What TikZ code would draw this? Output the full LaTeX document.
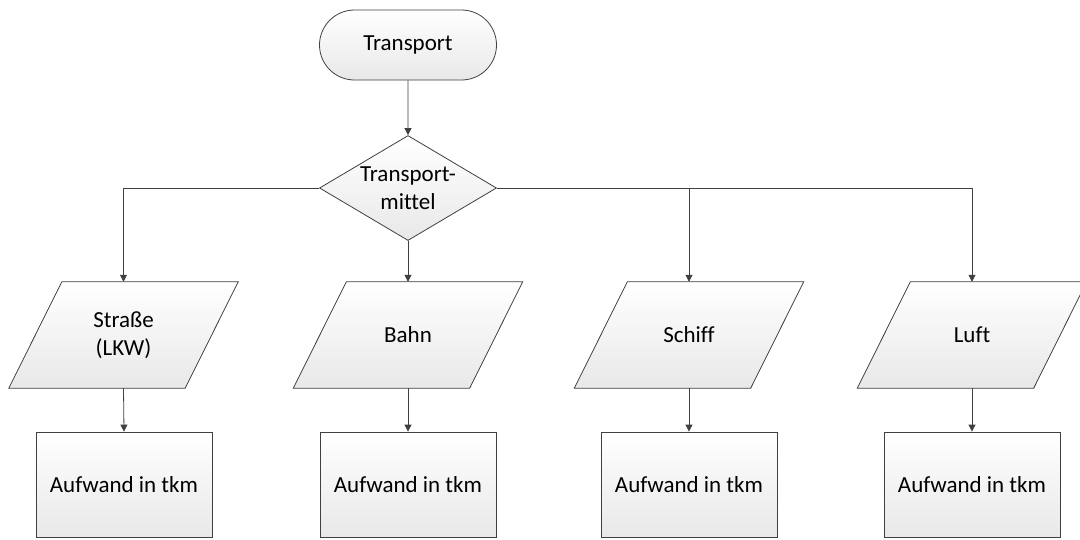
\documentclass[tikz,border=0pt]{standalone}
\usepackage{fontspec}
\setmainfont{Carlito}[Ligatures=NoCommon]
\usepackage{tikz}
\usetikzlibrary{shapes.geometric,shapes.misc,arrows.meta,positioning,backgrounds}
\definecolor{lineclr}{HTML}{404040}

\tikzset{
  fillclr/.style={top color=white, bottom color=black!9},
  box/.style={draw=lineclr, line width=0.8pt, fillclr,
    inner sep=0pt, align=center, font=\fontsize{23}{28}\selectfont},
  term/.style={box, rounded rectangle, minimum width=177pt, minimum height=70pt},
  decision/.style={box, diamond, aspect=1.7, minimum width=177pt, minimum height=105pt},
  para/.style={inner sep=0pt, align=center, font=\fontsize{23}{28}\selectfont,
    minimum width=176pt, minimum height=106pt},
  proc/.style={box, rectangle, minimum width=176pt, minimum height=105pt},
  arr/.style={draw=lineclr, line width=0.8pt, -{Triangle[length=7pt,width=7pt]}}
}

\begin{document}
\begin{tikzpicture}[x=1pt, y=-1pt]
    \useasboundingbox (0,0) rectangle (1080,539);
    \node[term] (transport) at (408,45) {Transport};
    \node[decision] (mittel) at (408,188) {Transport-\\mittel};
    % Transportmittel
    \node[para] (strasse) at (123.5,335) {Straße\\(LKW)};
    \node[para] (bahn) at (408,335) {Bahn};
    \node[para] (schiff) at (689,335) {Schiff};
    \node[para] (luft) at (972,335) {Luft};
    \begin{scope}[on background layer]
        \foreach \n in {strasse, bahn, schiff, luft}
            \draw[draw=lineclr, line width=0.8pt, fillclr]
                ([xshift=26.5pt]\n.north west) -- ([xshift=26.5pt]\n.north east)
                -- ([xshift=-26.5pt]\n.south east) -- ([xshift=-26.5pt]\n.south west) -- cycle;
    \end{scope}
    % Aufwand
    \node[proc] (aufStrasse) at (124,484.5) {Aufwand in tkm};
    \node[proc] (aufBahn) at (408,484.5) {Aufwand in tkm};
    \node[proc] (aufSchiff) at (689,484.5) {Aufwand in tkm};
    \node[proc] (aufLuft) at (972,484.5) {Aufwand in tkm};

    \draw[arr] (transport) -- (mittel);
    \draw[arr] (mittel.west) -| (strasse.north);
    \draw[arr] (mittel.south) -- (bahn.north);
    \draw[arr] (mittel.east) -| (schiff.north);
    \draw[arr] (mittel.east) -| (luft.north);
    \foreach \p/\a in {strasse/aufStrasse, bahn/aufBahn, schiff/aufSchiff, luft/aufLuft}
        \draw[arr] (\p.south) -- (\a.north);
\end{tikzpicture}
\end{document}
